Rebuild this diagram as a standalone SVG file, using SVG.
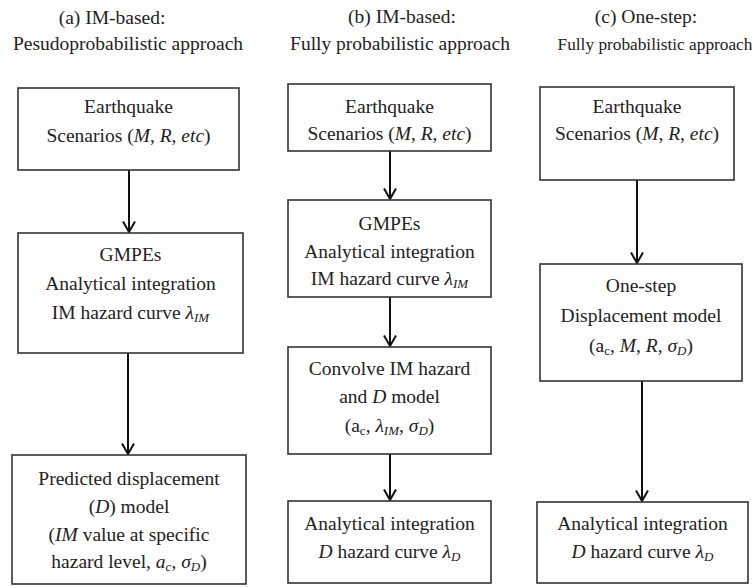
<svg xmlns="http://www.w3.org/2000/svg" width="756" height="587" viewBox="0 0 756 587" font-family="'Liberation Serif', Tinos, 'Times New Roman', 'DejaVu Serif', serif">
<style>
text{font-family:'Liberation Serif', Tinos, 'Times New Roman', 'DejaVu Serif', serif;font-size:19.5px;fill:#222;text-anchor:middle}
.box{fill:#fff;stroke:#333;stroke-width:1.6}
.conn{stroke:#111;stroke-width:2;fill:none}
.i{font-style:italic}
.s{font-size:13px}
</style>
<defs>
<marker id="arr" markerUnits="userSpaceOnUse" viewBox="-1 -7 13 14" refX="10.5" refY="0" markerWidth="13" markerHeight="14" orient="auto">
<path d="M0,-6 L10.5,0 L0,6" fill="none" stroke="#111" stroke-width="2"/>
</marker>
</defs>
<rect width="756" height="587" fill="#fff"/>
<g id="titles">
<text x="112" y="24">(a)  IM-based:</text>
<text x="128" y="50">Pesudoprobabilistic approach</text>
<text x="402" y="23">(b) IM-based:</text>
<text x="400" y="50">Fully probabilistic approach</text>
<text x="646" y="23">(c) One-step:</text>
<text x="655" y="50" style="font-size:17.3px">Fully probabilistic approach</text>
</g>
<g id="connectors">
<line class="conn" x1="129" y1="170" x2="129" y2="232" marker-end="url(#arr)"/>
<line class="conn" x1="128" y1="353" x2="128" y2="454" marker-end="url(#arr)"/>
<line class="conn" x1="390" y1="151" x2="390" y2="199" marker-end="url(#arr)"/>
<line class="conn" x1="390" y1="297" x2="390" y2="346" marker-end="url(#arr)"/>
<line class="conn" x1="390" y1="454" x2="390" y2="500" marker-end="url(#arr)"/>
<line class="conn" x1="637" y1="180" x2="637" y2="263" marker-end="url(#arr)"/>
<line class="conn" x1="642" y1="381" x2="642" y2="501" marker-end="url(#arr)"/>
</g>
<g id="a1">
<rect class="box" x="18" y="88" width="221" height="82"/>
<text x="128.5" y="113">Earthquake</text>
<text x="128.5" y="142">Scenarios (<tspan class="i">M</tspan>, <tspan class="i">R</tspan>, <tspan class="i">etc</tspan>)</text>
</g>
<g id="a2">
<rect class="box" x="18" y="233" width="225" height="120"/>
<text x="130.5" y="261">GMPEs</text>
<text x="130.5" y="290">Analytical integration</text>
<text x="130.5" y="319">IM hazard curve <tspan class="i">λ</tspan><tspan class="i s" dy="3">IM</tspan></text>
</g>
<g id="a3">
<rect class="box" x="12" y="455" width="234" height="129"/>
<text x="129" y="485">Predicted displacement</text>
<text x="129" y="513">(<tspan class="i">D</tspan>) model</text>
<text x="129" y="541"> (<tspan class="i">IM</tspan> value at specific</text>
<text x="129" y="568">hazard level, <tspan class="i">a</tspan><tspan class="i s" dy="3">c</tspan><tspan dy="-3">, </tspan><tspan class="i">σ</tspan><tspan class="i s" dy="3">D</tspan><tspan dy="-3">)</tspan></text>
</g>
<g id="b1">
<rect class="box" x="288" y="84" width="203" height="67"/>
<text x="389.5" y="113">Earthquake</text>
<text x="389.5" y="140">Scenarios (<tspan class="i">M</tspan>, <tspan class="i">R</tspan>, <tspan class="i">etc</tspan>)</text>
</g>
<g id="b2">
<rect class="box" x="288" y="200" width="203" height="97"/>
<text x="389.5" y="230">GMPEs</text>
<text x="389.5" y="258">Analytical integration</text>
<text x="389.5" y="285">IM hazard curve <tspan class="i">λ</tspan><tspan class="i s" dy="3">IM</tspan></text>
</g>
<g id="b3">
<rect class="box" x="288" y="347" width="203" height="107"/>
<text x="389.5" y="375">Convolve IM hazard</text>
<text x="389.5" y="403">and <tspan class="i">D</tspan> model</text>
<text x="389.5" y="432">(a<tspan class="s" dy="3">c</tspan><tspan dy="-3">, </tspan><tspan class="i">λ</tspan><tspan class="i s" dy="3">IM</tspan><tspan dy="-3">, </tspan><tspan class="i">σ</tspan><tspan class="i s" dy="3">D</tspan><tspan dy="-3">)</tspan></text>
</g>
<g id="b4">
<rect class="box" x="288" y="501" width="203" height="82"/>
<text x="389.5" y="530">Analytical integration</text>
<text x="389.5" y="558"><tspan class="i">D</tspan> hazard curve <tspan class="i">λ</tspan><tspan class="i s" dy="3">D</tspan></text>
</g>
<g id="c1">
<rect class="box" x="540" y="87" width="194" height="93"/>
<text x="637" y="113">Earthquake</text>
<text x="637" y="140">Scenarios (<tspan class="i">M</tspan>, <tspan class="i">R</tspan>, <tspan class="i">etc</tspan>)</text>
</g>
<g id="c2">
<rect class="box" x="540" y="264" width="202" height="117"/>
<text x="641" y="292">One-step</text>
<text x="641" y="322">Displacement model</text>
<text x="641" y="352">(a<tspan class="s" dy="3">c</tspan><tspan dy="-3">, </tspan><tspan class="i">M</tspan>, <tspan class="i">R</tspan>, <tspan class="i">σ</tspan><tspan class="i s" dy="3">D</tspan><tspan dy="-3">)</tspan></text>
</g>
<g id="c3">
<rect class="box" x="537" y="502" width="211" height="81"/>
<text x="642.5" y="530">Analytical integration</text>
<text x="642.5" y="558"><tspan class="i">D</tspan> hazard curve <tspan class="i">λ</tspan><tspan class="i s" dy="3">D</tspan></text>
</g>
</svg>
